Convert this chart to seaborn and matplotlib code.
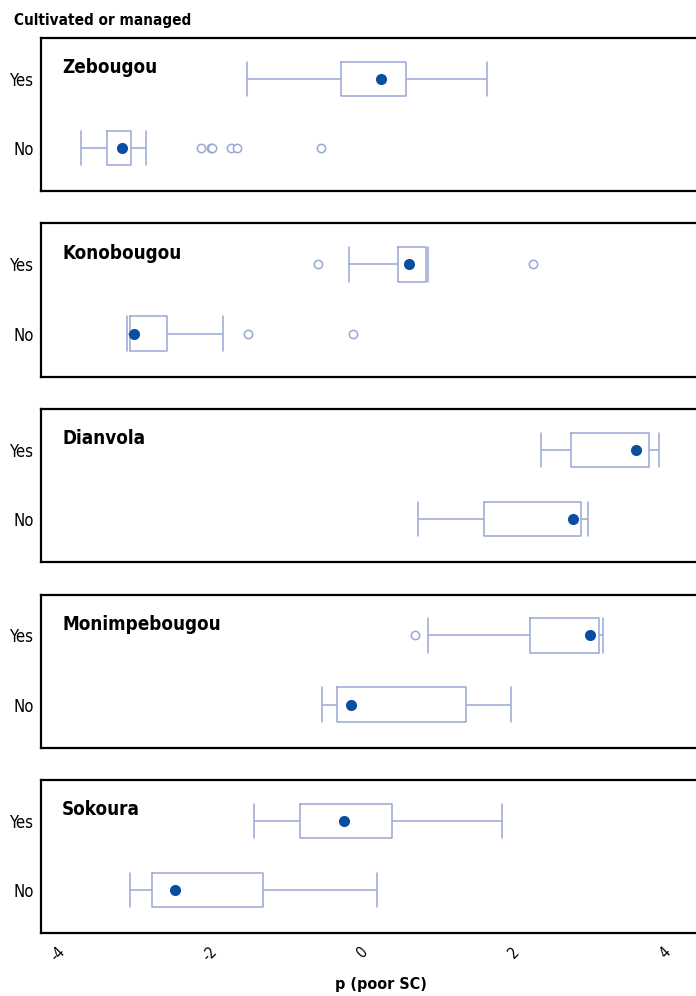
import seaborn as sns
import matplotlib.pyplot as plt
import pandas as pd
import numpy as np

sites = ['Zebougou', 'Konobougou', 'Dianvola', 'Monimpebougou', 'Sokoura']
groups = ['Yes', 'No']

# five-number summaries (whisker low, Q1, median, Q3, whisker high)
yes_lo = [-1.51, -0.17, 2.36, 0.87, -1.42]
yes_q1 = [-0.28, 0.47, 2.76, 2.21, -0.82]
yes_med = [0.25, 0.62, 3.61, 3.01, -0.24]
yes_q3 = [0.58, 0.84, 3.79, 3.13, 0.40]
yes_hi = [1.65, 0.87, 3.91, 3.18, 1.85]

no_lo = [-3.70, -3.10, 0.74, -0.52, -3.06]
no_q1 = [-3.36, -3.06, 1.61, -0.33, -2.77]
no_med = [-3.16, -3.01, 2.78, -0.15, -2.47]
no_q3 = [-3.05, -2.57, 2.89, 1.37, -1.30]
no_hi = [-2.84, -1.83, 2.98, 1.97, 0.20]

yes_out = [[], [-0.58, 2.26], [], [0.70], []]
no_out = [[-2.12, -1.99, -1.97, -1.72, -1.64, -0.54], [-1.50, -0.12], [], [], []]

xticks = [-4, -2, 0, 2, 4]

BOX = '#9AA7D6'
DOT = '#0A4E9F'

# %% munge into long tables
box_rows, med_rows, out_rows = [], [], []
for i, s in enumerate(sites):
    for g, lo, q1, md, q3, hi, out in [
            ('Yes', yes_lo, yes_q1, yes_med, yes_q3, yes_hi, yes_out),
            ('No', no_lo, no_q1, no_med, no_q3, no_hi, no_out)]:
        for v in [lo[i], q1[i], md[i], q3[i], hi[i]]:
            box_rows.append((s, g, v))
        med_rows.append((s, g, md[i]))
        for v in out[i]:
            out_rows.append((s, g, v))

boxes = pd.DataFrame(box_rows, columns=['site', 'group', 'value'])
medians = pd.DataFrame(med_rows, columns=['site', 'group', 'value'])
outliers = pd.DataFrame(out_rows, columns=['site', 'group', 'value'])

# %% plot
sns.set_style('white')
plt.rcParams['font.family'] = ['DejaVu Sans']
plt.rcParams['font.stretch'] = 'condensed'
for k in ['text.color', 'axes.labelcolor', 'xtick.color', 'ytick.color']:
    plt.rcParams[k] = 'black'

fig = plt.figure(figsize=(6.96, 9.96), dpi=100)
W, H = 696, 996
left, right = 41, 720

axes = []
for i, s in enumerate(sites):
    top = 38 + i * 185.5
    ax = fig.add_axes([left / W, 1 - (top + 153) / H, (right - left) / W, 153 / H])

    sns.boxplot(data=boxes[boxes.site == s], x='value', y='group', order=groups,
                whis=(0, 100), width=0.5, fill=False, color=BOX, linewidth=1.1,
                showfliers=False, medianprops={'linewidth': 0}, capwidths=0.5,
                ax=ax)

    sub = outliers[outliers.site == s]
    if len(sub):
        sns.stripplot(data=sub, x='value', y='group', order=groups, jitter=False,
                      color='white', edgecolor=BOX, linewidth=1.1, size=6, ax=ax)

    sns.stripplot(data=medians[medians.site == s], x='value', y='group', order=groups,
                  jitter=False, color=DOT, size=8, linewidth=0, ax=ax)

    ax.set_xlim(-4.23, 4.72)
    ax.set_ylim(1.62, -0.59)
    ax.set_xlabel('')
    ax.set_ylabel('')
    ax.set_xticks(xticks)
    ax.tick_params(length=0, labelsize=12, pad=5)
    for sp in ax.spines.values():
        sp.set_linewidth(1.6)
        sp.set_color('black')
    ax.text(0.031, 0.77, s, transform=ax.transAxes, fontsize=13.5,
            fontweight='bold', va='baseline', ha='left')
    if i < len(sites) - 1:
        ax.set_xticklabels([])
    axes.append(ax)

ax = axes[-1]
ax.set_xticklabels([str(t) for t in xticks], rotation=45, ha='center', fontsize=11)
ax.tick_params(axis='x', pad=8)
ax.set_xlabel('p (poor SC)', fontsize=11.5, fontweight='bold', labelpad=9)

fig.text(14 / W, 1 - 20 / H, 'Cultivated or managed', fontsize=11,
         fontweight='bold', va='center', ha='left')

fig.savefig('out.png', dpi=100)
